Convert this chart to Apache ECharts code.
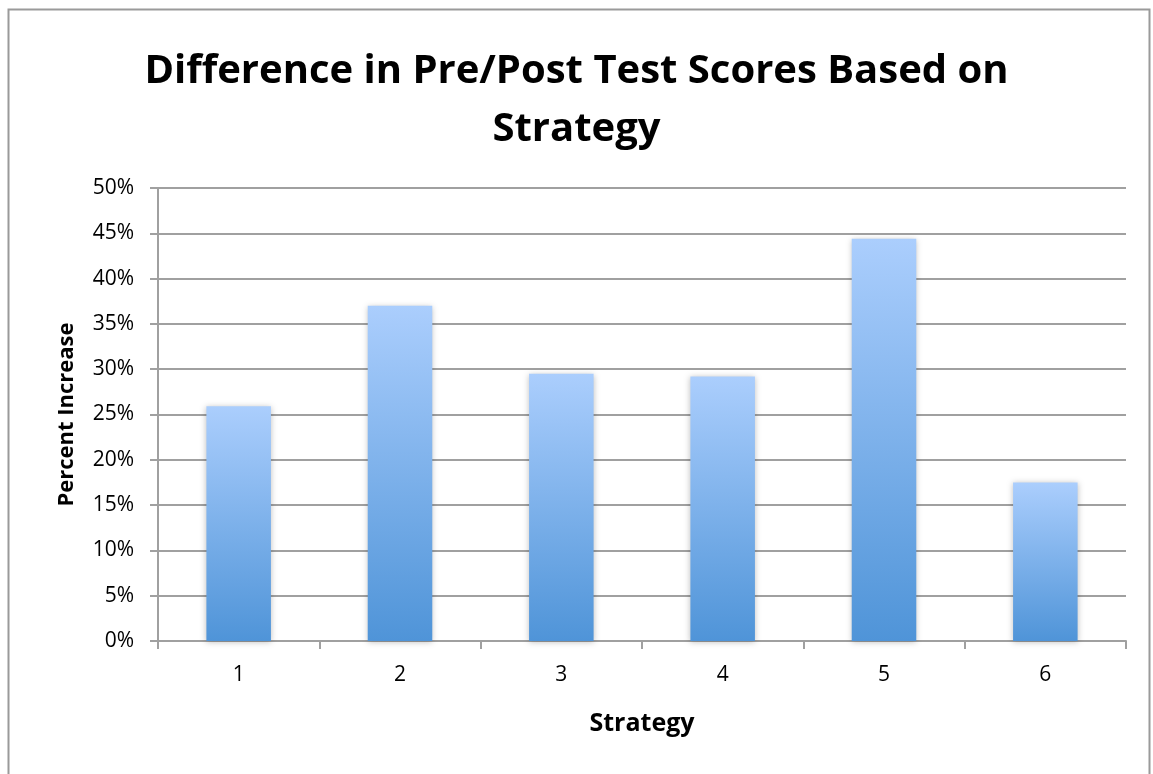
<!DOCTYPE html>
<html>
<head>
<meta charset="utf-8">
<script src="https://cdn.jsdelivr.net/npm/echarts@6/dist/echarts.min.js"></script>
<style>
html,body{margin:0;padding:0;background:#fff;}
#chart{width:1153px;height:774px;}
</style>
</head>
<body>
<div id="chart"></div>
<script>
// strategies and percent increase
var strategies = ['1', '2', '3', '4', '5', '6'];
var increase = [25.9, 37.0, 29.5, 29.2, 44.4, 17.5];

var chart = echarts.init(document.getElementById('chart'));
var font = '"Open Sans", "Liberation Sans", sans-serif';

chart.setOption({
    animation: false,
    textStyle: {fontFamily: font},
    graphic: [{
        type: 'rect',
        shape: {x: 8.5, y: 9.5, width: 1141, height: 800},
        style: {fill: 'none', stroke: '#9a9a9a', lineWidth: 2}
    }],
    title: {
        text: 'Difference in Pre/Post Test Scores Based on\nStrategy',
        left: 'center',
        top: 38,
        textStyle: {fontSize: 40, fontWeight: 'bold', color: '#000', lineHeight: 58, fontFamily: font}
    },
    grid: {left: 158, right: 27, top: 188, bottom: 133},
    xAxis: {
        type: 'category',
        data: strategies,
        name: 'Strategy',
        nameLocation: 'middle',
        nameGap: 70,
        nameTextStyle: {fontSize: 25, fontWeight: 'bold', color: '#000'},
        axisLine: {lineStyle: {color: '#a0a0a0', width: 2}},
        axisTick: {show: true, length: 8, interval: 0, lineStyle: {color: '#a0a0a0', width: 2}},
        axisLabel: {fontSize: 21, color: '#000', margin: 24}
    },
    yAxis: {
        type: 'value',
        min: 0,
        max: 50,
        interval: 5,
        name: 'Percent Increase',
        nameLocation: 'middle',
        nameGap: 80,
        nameTextStyle: {fontSize: 22, fontWeight: 'bold', color: '#000'},
        axisLine: {show: true, lineStyle: {color: '#a0a0a0', width: 2}},
        axisTick: {show: true, length: 8, lineStyle: {color: '#a0a0a0', width: 2}},
        axisLabel: {fontSize: 21, color: '#000', margin: 24, formatter: '{value}%'},
        splitLine: {lineStyle: {color: '#a0a0a0', width: 2}}
    },
    series: [{
        type: 'bar',
        data: increase,
        barWidth: '40%',
        itemStyle: {
            color: new echarts.graphic.LinearGradient(0, 0, 0, 1, [
                {offset: 0, color: '#abcefd'},
                {offset: 1, color: '#4f94d8'}
            ]),
            shadowColor: 'rgba(0,0,0,0.25)',
            shadowBlur: 6,
            shadowOffsetY: 1
        }
    }]
});
</script>
</body>
</html>
